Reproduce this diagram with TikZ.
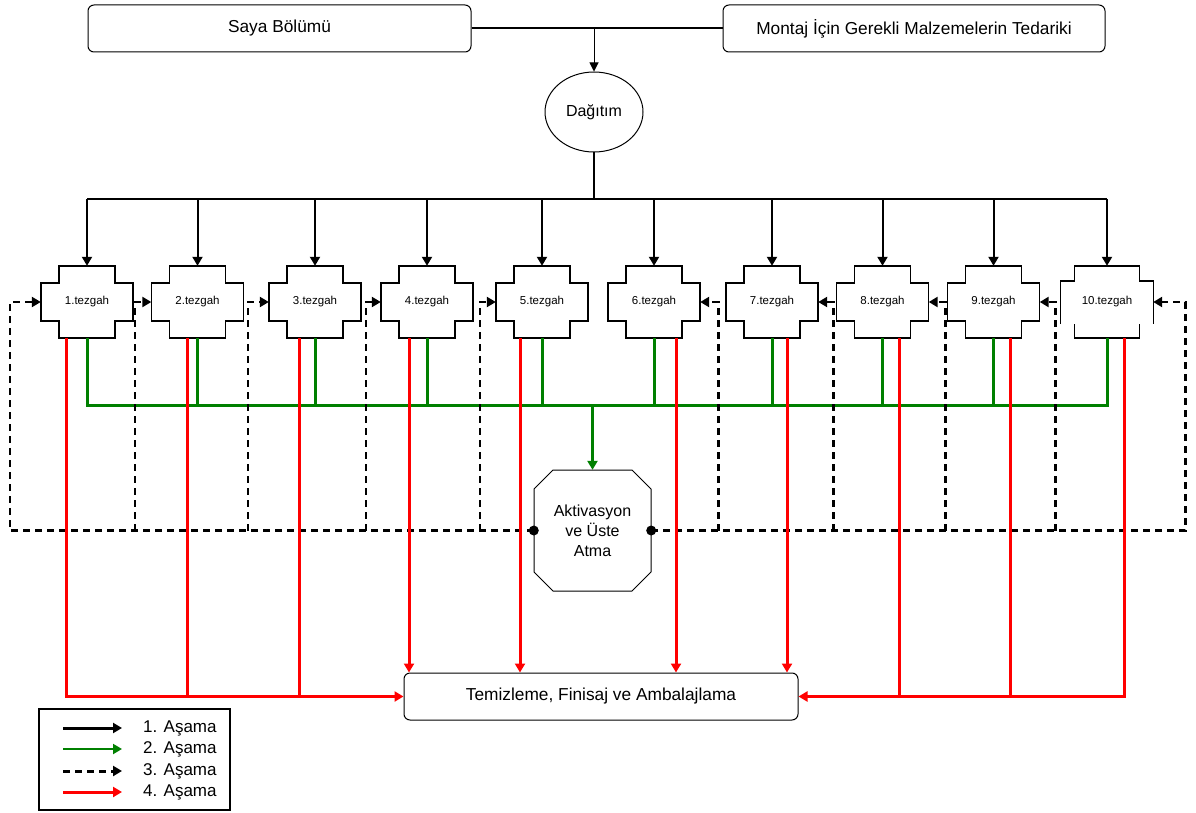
\documentclass[tikz,border=0pt]{standalone}
\usepackage{fontspec}
\setmainfont{Liberation Sans}
\usetikzlibrary{arrows.meta,calc,shapes.geometric}
\definecolor{stagegreen}{RGB}{0,128,0}
\definecolor{stagered}{RGB}{255,0,0}
\begin{document}
\begin{tikzpicture}[x=1pt,y=-1pt,
  box/.style={draw,rounded corners=6pt,line width=1pt,minimum width=383pt,minimum height=47pt,inner sep=0pt,font=\fontsize{17.3}{20}\selectfont},
  tz/.style={minimum width=92pt,minimum height=72pt,inner sep=0pt,font=\fontsize{11.5}{13}\selectfont},
  tzline/.style={line width=1.5pt},
  tip/.style={-{Triangle[length=9pt,width=10pt]}},
  s1/.style={line width=2pt,tip},
  s2/.style={stagegreen,line width=3pt},
  s3/.style={line width=2.6pt,dash pattern=on 7pt off 5pt},
  s4/.style={stagered,line width=3pt},
  lgtext/.style={anchor=west,inner sep=0pt,font=\fontsize{17}{20}\selectfont}
]
\path[use as bounding box,fill=white] (0,0) rectangle (1196,813);

% top row and distribution
\node[box] (saya) at (279.5,28.5) {Saya Bölümü};
\node[box,minimum width=382pt] (montaj) at (914,28.5) {Montaj İçin Gerekli Malzemelerin Tedariki};
\node[draw,ellipse,line width=1pt,minimum width=98pt,minimum height=80pt,inner sep=0pt,font=\fontsize{16}{18}\selectfont] (dag) at (594,112) {Dağıtım};
\draw[line width=2pt] (saya.east) -- (montaj.west);
\draw[line width=1pt,-{Triangle[length=9pt,width=9pt]}] (saya.east -| dag.north) -- (dag.north);

% work benches
\foreach \i/\cx in {1/87,2/197.5,3/315,4/427,5/542,6/654,7/772,8/882.5,9/993.5,10/1107}{
  \node[tz] (t\i) at (\cx,302) {\i.tezgah};
}
\foreach \i in {1,...,9}{
  \begin{scope}[shift={(t\i.center)}]
    \draw[tzline] (-46,-19)--(-28,-19)--(-28,-36)--(28,-36)--(28,-19)--(46,-19)
      --(46,19)--(28,19)--(28,36)--(-28,36)--(-28,19)--(-46,19)--cycle;
  \end{scope}
}
\begin{scope}[shift={(t10.center)}]
  \draw[tzline] (-46.5,22)--(-46.5,-21)--(-32.5,-21)--(-32.5,-36)--(32.5,-36)
    --(32.5,-21)--(46.5,-21)--(46.5,22);
  \draw[tzline] (-32.5,22)--(-32.5,36)--(32.5,36)--(32.5,22);
\end{scope}

% stage 1: distribution bus
\coordinate (bus) at (594,199);
\draw[line width=1.5pt] (dag.south) -- (bus);
\draw[line width=2.5pt] (t1.north |- bus) -- (t10.north |- bus);
\foreach \i in {1,...,10}{
  \draw[s1] (t\i.north |- bus) -- (t\i.north);
}

% activation station
\node[minimum width=117pt,minimum height=121pt,inner sep=0pt,align=center,font=\fontsize{16}{20}\selectfont] (act) at (592.5,530.5) {Aktivasyon\\ve Üste\\Atma};
\begin{scope}[shift={(act.center)}]
  \draw[line width=1pt] (-58.5,-41.5)--(-39.5,-60.5)--(39.5,-60.5)--(58.5,-41.5)
    --(58.5,41.5)--(39.5,60.5)--(-39.5,60.5)--(-58.5,41.5)--cycle;
\end{scope}

% cleaning and packing
\node[draw,rounded corners=6pt,line width=1pt,minimum width=394pt,minimum height=47pt,inner sep=0pt,font=\fontsize{17.3}{20}\selectfont] (clean) at (601,696.5) {Temizleme, Finisaj ve Ambalajlama};

% stage 2: collection to activation
\coordinate (gb) at (592.5,405);
\draw[s2] (t1.south) |- (gb) -| (t10.south);
\foreach \i in {2,...,9}{
  \draw[s2] (t\i.south) -- (t\i.south |- gb);
}
\draw[s2,tip] (gb) -- (act.north);

% stage 3: return from activation
\draw[s3,tip] (act.west) -| ([xshift=-31pt]t1.west) -- (t1.west);
\foreach \i/\dx in {2/-16.5,3/-21,4/-15,5/-16}{
  \draw[s3,tip] ([xshift=\dx pt]t\i.west |- act.west) -- ([xshift=\dx pt]t\i.west) -- (t\i.west);
}
\draw[s3,tip] (act.east) -| ([xshift=32pt]t10.east) -- (t10.east);
\foreach \i/\dx in {6/18.5,7/15,8/17,9/15.5}{
  \draw[s3,tip] ([xshift=\dx pt]t\i.east |- act.east) -- ([xshift=\dx pt]t\i.east) -- (t\i.east);
}
\fill (act.west) circle (5pt);
\fill (act.east) circle (5pt);

% stage 4: to cleaning and packing
\draw[s4,tip] ([xshift=-21pt]t1.south) |- (clean.west);
\foreach \i/\dx in {2/-10.5,3/-16}{
  \draw[s4] ([xshift=\dx pt]t\i.south) -- ([xshift=\dx pt]t\i.south |- clean.west);
}
\foreach \i/\dx in {4/-18,5/-22,6/22,7/15}{
  \draw[s4,tip] ([xshift=\dx pt]t\i.south) -- ([xshift=\dx pt]t\i.south |- clean.north);
}
\draw[s4,tip] ([xshift=17pt]t10.south) |- (clean.east);
\foreach \i/\dx in {8/16.5,9/16.5}{
  \draw[s4] ([xshift=\dx pt]t\i.south) -- ([xshift=\dx pt]t\i.south |- clean.east);
}

% legend
\node[draw,line width=1.5pt,minimum width=191pt,minimum height=101pt,inner sep=0pt] (legend) at (134.5,759.5) {};
\node[lgtext] (l1) at (143,728) {1. Aşama};
\node[lgtext] (l2) at (143,749) {2. Aşama};
\node[lgtext] (l3) at (143,771) {3. Aşama};
\node[lgtext] (l4) at (143,792) {4. Aşama};
\draw[line width=3pt,tip] ([xshift=-80pt]l1.west) -- ([xshift=-21pt]l1.west);
\draw[stagegreen,line width=2pt,tip] ([xshift=-80pt]l2.west) -- ([xshift=-21pt]l2.west);
\draw[s3,line width=3pt,tip] ([xshift=-80pt]l3.west) -- ([xshift=-21pt]l3.west);
\draw[s4,tip] ([xshift=-80pt]l4.west) -- ([xshift=-21pt]l4.west);
\end{tikzpicture}
\end{document}
